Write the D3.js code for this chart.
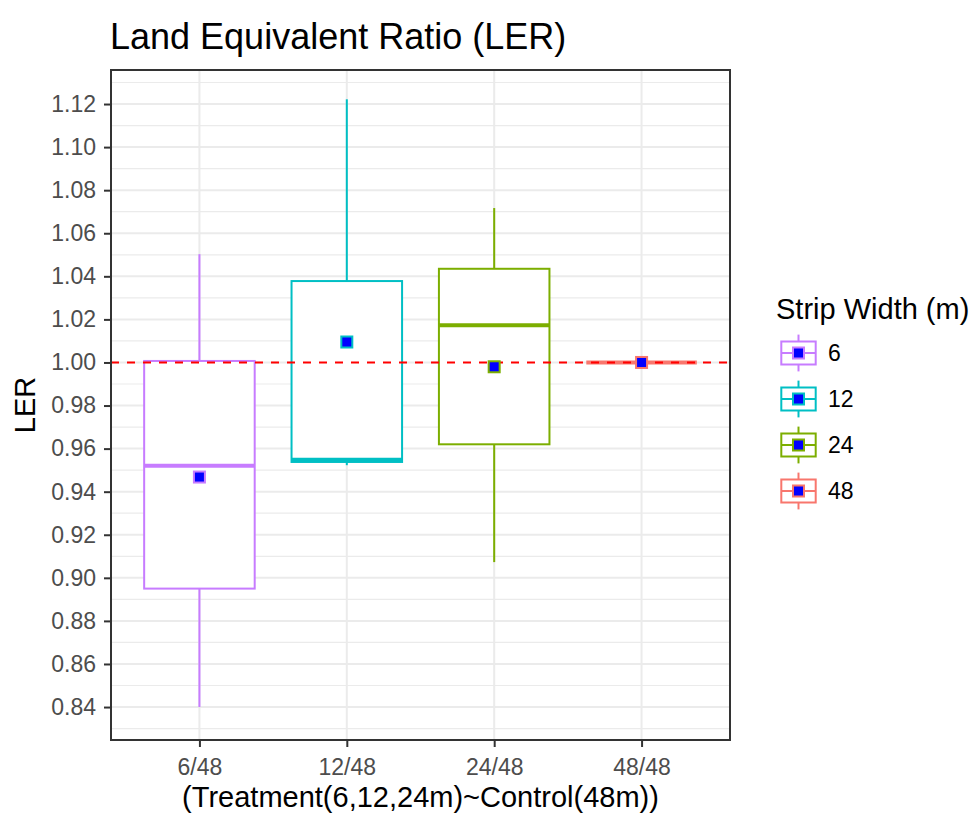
<!DOCTYPE html>
<html>
<head>
<meta charset="utf-8">
<script src="https://cdn.jsdelivr.net/npm/d3@7"></script>
<style>
  html, body { margin: 0; padding: 0; background: #fff; }
  svg { display: block; }
  text { font-family: "Liberation Sans", Arial, sans-serif; }
</style>
</head>
<body>
<svg id="chart" width="976" height="819"></svg>
<script>
// ---- data ----
const categories = ["6/48", "12/48", "24/48", "48/48"];
const groups     = ["6", "12", "24", "48"];
const colors     = ["#C77CFF", "#00BFC4", "#7CAE00", "#F8766D"];
const whiskerLow  = [0.840, 0.9523, 0.9073, 1.000];
const q1          = [0.895, 0.9538, 0.962, 1.000];
const median      = [0.952, 0.9548, 1.0173, 1.000];
const q3          = [1.0007, 1.0378, 1.0435, 1.000];
const whiskerHigh = [1.0503, 1.1222, 1.0717, 1.000];
const means       = [0.9468, 1.0095, 0.998, 1.000];
const refLine = 1.00;
const yDomain = [0.8247, 1.1358];
const yTicks = [0.84,0.86,0.88,0.90,0.92,0.94,0.96,0.98,1.00,1.02,1.04,1.06,1.08,1.10,1.12];
const yMinor = [0.83,0.85,0.87,0.89,0.91,0.93,0.95,0.97,0.99,1.01,1.03,1.05,1.07,1.09,1.11,1.13];

const titleText = "Land Equivalent Ratio (LER)";
const xTitle = "(Treatment(6,12,24m)~Control(48m))";
const yTitle = "LER";
const legendTitle = "Strip Width (m)";

const data = categories.map((c, i) => ({
  cat: c, group: groups[i], color: colors[i],
  lo: whiskerLow[i], q1: q1[i], med: median[i], q3: q3[i], hi: whiskerHigh[i], mean: means[i]
}));

// ---- layout ----
const P = { left: 111, right: 730, top: 70, bottom: 740 };
const svg = d3.select("#chart");

const u = (P.right - P.left) / (categories.length - 1 + 1.2);
const x = d3.scalePoint().domain(categories).range([P.left + 0.6 * u, P.right - 0.6 * u]);
const boxW = 0.75 * u;

const y = d3.scaleLinear().domain(yDomain).range([P.bottom, P.top]);

// panel background
svg.append("rect").attr("x", P.left).attr("y", P.top)
  .attr("width", P.right - P.left).attr("height", P.bottom - P.top).attr("fill", "#fff");

const grid = svg.append("g");
grid.selectAll("line.minor").data(yMinor).join("line")
  .attr("x1", P.left).attr("x2", P.right)
  .attr("y1", d => y(d)).attr("y2", d => y(d))
  .attr("stroke", "#EBEBEB").attr("stroke-width", 1.2);
grid.selectAll("line.major").data(yTicks).join("line")
  .attr("x1", P.left).attr("x2", P.right)
  .attr("y1", d => y(d)).attr("y2", d => y(d))
  .attr("stroke", "#EBEBEB").attr("stroke-width", 2);
grid.selectAll("line.vmajor").data(categories).join("line")
  .attr("x1", d => x(d)).attr("x2", d => x(d))
  .attr("y1", P.top).attr("y2", P.bottom)
  .attr("stroke", "#EBEBEB").attr("stroke-width", 2);

// boxes
const boxes = svg.append("g").selectAll("g").data(data).join("g");
boxes.append("line")
  .attr("x1", d => x(d.cat)).attr("x2", d => x(d.cat))
  .attr("y1", d => y(d.q3)).attr("y2", d => y(d.hi))
  .attr("stroke", d => d.color).attr("stroke-width", 2);
boxes.append("line")
  .attr("x1", d => x(d.cat)).attr("x2", d => x(d.cat))
  .attr("y1", d => y(d.q1)).attr("y2", d => y(d.lo))
  .attr("stroke", d => d.color).attr("stroke-width", 2);
boxes.append("rect")
  .attr("x", d => x(d.cat) - boxW / 2).attr("width", boxW)
  .attr("y", d => y(d.q3)).attr("height", d => y(d.q1) - y(d.q3))
  .attr("fill", "#fff").attr("stroke", d => d.color).attr("stroke-width", 2);
boxes.append("line")
  .attr("x1", d => x(d.cat) - boxW / 2).attr("x2", d => x(d.cat) + boxW / 2)
  .attr("y1", d => y(d.med)).attr("y2", d => y(d.med))
  .attr("stroke", d => d.color).attr("stroke-width", 4);

// reference line
svg.append("line")
  .attr("x1", P.left).attr("x2", P.right)
  .attr("y1", y(refLine)).attr("y2", y(refLine))
  .attr("stroke", "#FF0000").attr("stroke-width", 2).attr("stroke-dasharray", "8,8");

// mean markers
const ms = 11;
svg.append("g").selectAll("rect").data(data).join("rect")
  .attr("x", d => x(d.cat) - ms / 2).attr("y", d => y(d.mean) - ms / 2)
  .attr("width", ms).attr("height", ms)
  .attr("fill", "#0000FF").attr("stroke", d => d.color).attr("stroke-width", 2);

// panel border
svg.append("rect").attr("x", P.left).attr("y", P.top)
  .attr("width", P.right - P.left).attr("height", P.bottom - P.top)
  .attr("fill", "none").attr("stroke", "#333333").attr("stroke-width", 2);

// axes
const yAxis = d3.axisLeft(y).tickValues(yTicks).tickFormat(d3.format(".2f")).tickSize(7).tickPadding(8);
const gy = svg.append("g").attr("transform", `translate(${P.left},0)`).call(yAxis);
const xAxis = d3.axisBottom(x).tickSize(7).tickPadding(6);
const gx = svg.append("g").attr("transform", `translate(0,${P.bottom})`).call(xAxis);
[gy, gx].forEach(g => {
  g.select(".domain").remove();
  g.selectAll(".tick line").attr("stroke", "#333333").attr("stroke-width", 2);
  g.selectAll(".tick text").attr("fill", "#4D4D4D")
    .style("font-size", "23px").style("font-family", "'Liberation Sans', Arial, sans-serif");
});
gx.selectAll(".tick text").attr("dy", null).attr("y", 35);

// titles
svg.append("text").attr("x", 110).attr("y", 49).text(titleText)
  .attr("fill", "#000").style("font-size", "36px");
svg.append("text").attr("x", (P.left + P.right) / 2).attr("y", 807)
  .attr("text-anchor", "middle").text(xTitle).attr("fill", "#000").style("font-size", "29px");
svg.append("text").attr("transform", `translate(35,${(P.top + P.bottom) / 2}) rotate(-90)`)
  .attr("text-anchor", "middle").text(yTitle).attr("fill", "#000").style("font-size", "29px");

// legend
const lg = svg.append("g");
lg.append("text").attr("x", 776).attr("y", 319).text(legendTitle)
  .attr("fill", "#000").style("font-size", "29px");
const keyH = 46, keyW = 43, keyX = 777, keyY0 = 330;
const keys = lg.selectAll("g.key").data(data).join("g")
  .attr("transform", (d, i) => `translate(${keyX},${keyY0 + i * keyH})`);
keys.append("rect").attr("width", keyW).attr("height", keyH).attr("fill", "#fff");
keys.append("line").attr("x1", keyW / 2).attr("x2", keyW / 2)
  .attr("y1", keyH * 0.1).attr("y2", keyH * 0.9)
  .attr("stroke", d => d.color).attr("stroke-width", 2);
keys.append("rect").attr("x", keyW * 0.1).attr("width", keyW * 0.8)
  .attr("y", keyH * 0.25).attr("height", keyH * 0.5)
  .attr("fill", "#fff").attr("stroke", d => d.color).attr("stroke-width", 2);
keys.append("line").attr("x1", keyW * 0.1).attr("x2", keyW * 0.9)
  .attr("y1", keyH / 2).attr("y2", keyH / 2)
  .attr("stroke", d => d.color).attr("stroke-width", 2);
keys.append("rect").attr("x", keyW / 2 - ms / 2).attr("y", keyH / 2 - ms / 2)
  .attr("width", ms).attr("height", ms)
  .attr("fill", "#0000FF").attr("stroke", d => d.color).attr("stroke-width", 2);
keys.append("text").attr("x", 51).attr("y", keyH / 2).attr("dy", "0.36em")
  .text(d => d.group).attr("fill", "#000").style("font-size", "23px");
</script>
</body>
</html>
